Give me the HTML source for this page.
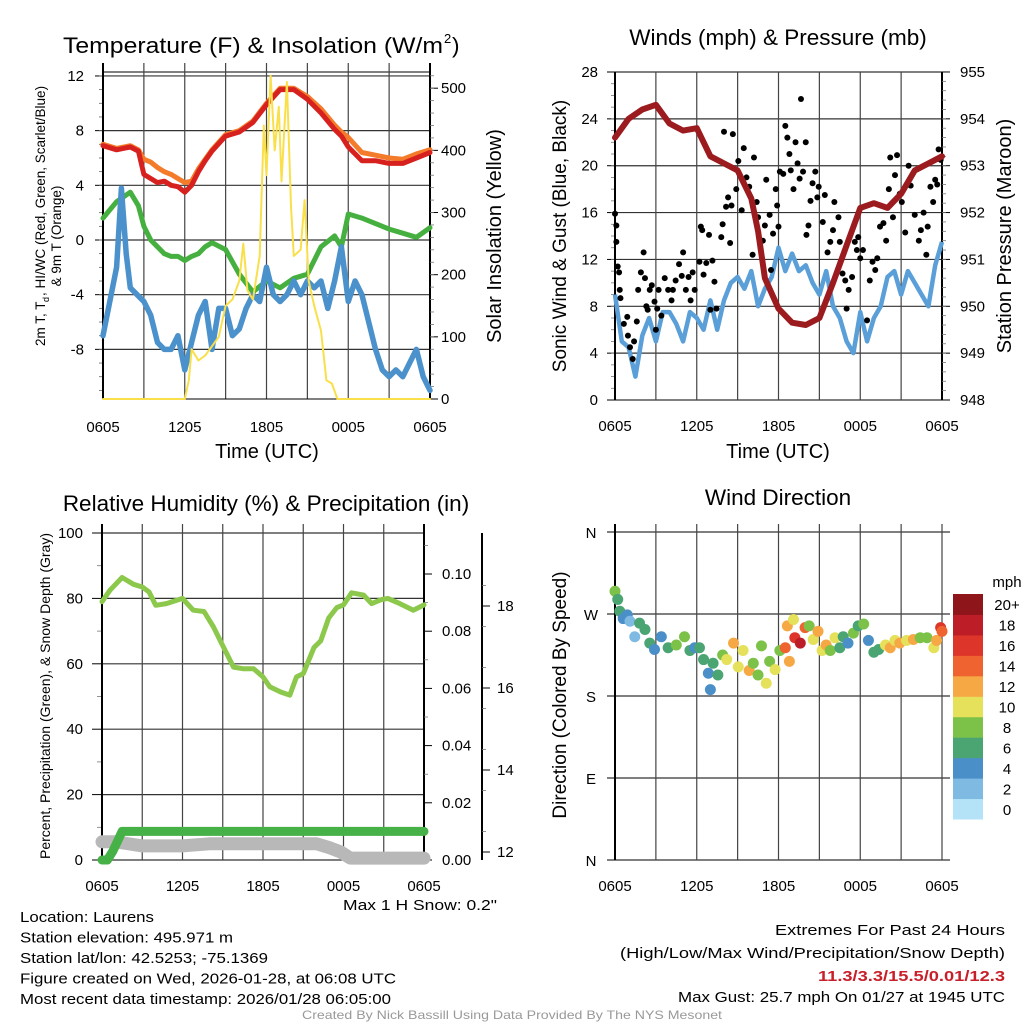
<!DOCTYPE html>
<html><head><meta charset="utf-8"><style>
html,body{margin:0;padding:0;background:#fff}
svg{display:block;font-family:"Liberation Sans",sans-serif}
</style></head><body>
<svg id="c" width="1024" height="1024" viewBox="0 0 1024 1024" xmlns="http://www.w3.org/2000/svg"></svg>
<script>
// ---------- DATA ----------
const timeTicks = ["0605","1205","1805","0005","0605"];
const tempHours = [0,1,2,2.6,3,3.5,4,4.5,5,5.5,6,6.5,7,7.5,8,9,10,11,12,13,14,15,16,17,17.5,18,19,20,21,22,23,24];
const tempRed = [6.9,6.6,6.8,6.5,4.8,4.5,4.2,4.3,4.0,3.9,3.5,4.0,5.0,5.8,6.5,7.6,7.9,8.6,9.9,11.0,11.0,10.3,9.3,8.1,7.6,6.8,5.8,5.8,5.6,5.6,6.0,6.4];
const tempOrange = [7.0,6.7,6.9,6.6,5.9,5.7,5.3,5.0,4.8,4.5,4.2,4.3,5.2,5.9,6.6,7.7,8.0,8.7,10.0,11.1,11.1,10.5,9.6,8.4,7.9,7.5,6.4,6.2,6.0,5.9,6.3,6.6];
const dewGreen = [1.6,2.8,3.5,2.5,1.0,0,-0.5,-1.0,-1.2,-1.2,-1.5,-1.2,-1.0,-0.5,-0.2,-0.7,-2.5,-3.8,-3.0,-3.5,-2.8,-2.5,-0.5,0.3,-0.5,1.9,1.6,1.2,0.8,0.5,0.2,0.9];
const wcHours = [0,0.5,1,1.35,1.7,2,2.5,3,3.5,4,4.5,5,5.5,6,6.5,7,7.5,8,8.5,9,9.5,10,10.5,11,11.5,12,12.5,13,13.5,14,14.5,15,15.5,16,16.5,17,17.5,18,18.5,19,19.5,20,20.5,21,21.5,22,22.5,23,23.5,24];
const wcBlue = [-7,-4.5,-2,3.8,-1,-3.5,-4,-4.5,-5.5,-7.5,-8,-8,-7,-9.5,-7.5,-5.5,-4.5,-8,-5,-5,-7,-6.5,-5,-4,-4.5,-2,-4,-4.5,-4,-3,-4,-3,-3.5,-3,-5,-3,-0.5,-4.5,-3,-4,-6,-8,-9.5,-10,-9.5,-10,-9,-8,-10,-11];
const solHours = [0,6,6.3,6.5,7,7.5,8,8.5,9,9.5,10,10.3,10.6,11,11.5,11.8,12,12.3,12.6,12.9,13.1,13.5,13.8,14,14.5,14.8,15.1,15.5,16,16.4,16.8,17.2,24];
const solar = [0,0,30,80,62,70,85,100,150,160,190,250,175,160,230,440,360,520,400,470,350,510,310,230,240,320,190,150,110,30,25,0,0];
const presHours = [0,1,2,3,4,5,6,7,8,9,10,10.5,11,12,13,14,15,16,17,18,19,20,21,22,23,24];
const pressure = [953.6,954.0,954.2,954.3,953.9,953.75,953.8,953.2,953.05,952.9,952.3,951.6,950.6,949.95,949.65,949.6,949.75,950.5,951.3,952.1,952.2,952.1,952.4,952.9,953.05,953.2];
const windHours = [0,0.5,1,1.5,2,2.5,3,3.5,4,4.5,5,5.5,6,6.5,7,7.5,8,8.5,9,9.5,10,10.5,11,11.5,12,12.5,13,13.5,14,14.5,15,15.5,16,16.5,17,17.5,18,18.5,19,19.5,20,20.5,21,21.5,22,22.5,23,23.5,24];
const windSpeed = [9,5,4.5,2,5.5,7,5,7.5,7.5,6.5,5,7.5,7,6,8.5,6,8.5,10,10.5,9.5,11,8,9.5,10.5,13,11,12.5,11,11.5,10,9,11,8,7,5,4,7.5,5,7,8,10.5,11,9,11,10,9,8,11.5,13.5];
const gustHours = [0,0.1,0.1,0.2,0.3,0.35,0.4,0.65,0.9,0.95,1.1,1.3,1.4,1.6,1.7,1.9,2.1,2.2,2.3,2.4,2.55,2.7,2.9,3.0,3.1,3.2,3.4,3.65,3.9,4.15,4.25,4.45,4.7,4.9,5.0,5.2,5.4,5.55,5.7,5.85,6.2,6.3,6.4,6.5,6.7,6.9,7.0,7.15,7.3,7.45,7.8,7.9,8.0,8.15,8.3,8.45,8.55,8.65,8.9,9.05,9.3,9.45,9.65,9.85,10.1,10.2,10.4,10.5,10.85,11.0,11.1,11.35,11.45,11.6,11.8,11.9,12.0,12.1,12.35,12.5,12.65,12.8,12.9,13.1,13.25,13.4,13.55,13.65,13.8,14.0,14.05,14.2,14.35,14.5,14.7,14.85,14.95,15.25,15.4,15.6,15.8,16.0,16.1,16.4,16.5,16.7,16.9,17.0,17.15,17.4,17.6,17.75,17.85,18.0,18.2,18.5,18.7,18.9,19.1,19.25,19.45,19.7,19.9,20.1,20.2,20.4,20.55,20.7,20.9,21.05,21.3,21.55,21.7,22.0,22.3,22.45,22.65,22.85,22.95,23.15,23.35,23.5,23.65,23.75,23.9];
const gustSpeed = [15.9,14.9,13.5,11.4,10.9,9.4,8.7,6.5,7.1,5.5,4.5,3.5,5,6.7,9.4,10.9,12.6,10.4,8,7.7,9.4,9.8,8.4,6,7.8,9.4,7.2,10.4,9.4,8.5,9.4,10.2,11.6,10.6,12.6,9.4,10.5,8.5,10.9,9.4,11.8,14.8,14.5,10.7,11.7,14.1,7.7,11.9,10.1,7.8,13.9,15,22.9,16.5,17.3,13.4,16.6,22.7,18,20.4,16.2,21.5,19,18.2,12.4,20.7,16.9,15.6,13.6,14.9,18.8,15.8,11.1,14.2,18,16.6,14.8,19.5,19.3,23.4,22.4,21,19.6,18,22,20.2,18.9,25.7,19.5,22,14.1,14.9,17,18.5,19.5,17.3,18.2,15.2,17.5,12.6,13.5,14.5,16.9,15.6,13.5,10.8,10.2,7.8,9.4,10.5,13.5,12.8,13.9,12.1,12.8,6.8,10.2,11.8,11.1,12.1,14.8,15.1,13.6,18,20.7,15.6,19.2,20.9,17.6,16.9,14.3,20,18.3,15.8,13.6,14.5,16,12.4,14.8,18.2,16.9,18.8,18.4,21.4,20.5];
const rhHours = [0,0.6,1.5,2.35,3.0,3.5,4.0,4.8,6.0,6.8,7.6,8.3,9.1,9.8,10.5,11.3,12.0,12.5,13.3,14.0,14.5,15.0,15.8,16.3,16.9,17.5,18.0,18.6,19.5,20.1,20.8,21.3,22.2,23.2,24];
const rh = [79,82.5,86.4,84.3,83.5,82,77.9,78.4,80,76.4,76,71.3,64.7,59,58.5,58.5,56,53,51.4,50.4,56,57,65,67,74,77.2,78,81.7,81,78.4,79.6,80,78.4,76.4,78];
const precipHours = [0,0.4,0.8,1.1,1.5,24];
const precip = [0,0,0.003,0.006,0.01,0.01];
const snowHours = [0,1,3,6,8,12,16,17,17.8,18.5,24];
const snowDepth = [12.25,12.25,12.15,12.15,12.2,12.2,12.2,12.1,12.0,11.85,11.85];
const dirHours = [0,0.2,0.35,0.6,0.9,1.1,1.45,1.8,2.2,2.55,2.9,3.4,3.9,4.5,5.1,5.5,5.85,6.2,6.5,6.85,7.0,7.2,7.55,7.9,8.2,8.7,9.05,9.4,9.85,10.15,10.5,10.75,11.1,11.35,11.75,12.1,12.5,12.65,12.8,13.1,13.2,13.6,13.95,14.25,14.55,14.9,15.2,15.5,15.8,16.15,16.5,16.75,17.1,17.5,17.85,18.25,18.6,19.0,19.35,19.85,20.2,20.55,20.9,21.4,21.9,22.4,22.9,23.4,23.6,23.9,24.0];
const dirDeg = [295,286,273,265,269,262,245,260,253,238,231,245,233,236,245,230,233,233,220,205,187,216,203,225,220,238,212,230,208,216,203,235,194,218,209,230,233,257,218,264,244,238,255,257,242,251,230,236,230,244,233,245,238,249,257,259,241,228,231,236,233,241,238,241,242,244,244,233,241,255,251];
const dirSpeed = [8,6,6,4,4,2,2,6,6,6,4,4,6,8,8,6,4,6,6,4,4,6,6,8,10,12,10,10,12,8,8,8,10,8,10,8,14,12,12,10,16,18,14,8,10,12,10,12,8,10,6,6,4,8,6,8,4,6,6,10,12,10,12,10,12,8,8,10,12,16,14];
const cbLabels = ["0","2","4","6","8","10","12","14","16","18","20+"];
const cbColors = ["#b4e3f8","#7fbae3","#4a8fc7","#4aa572","#7cc249","#e6e15a","#f6a845","#ef6330","#dd3529","#bc1d27","#8e161b"];

// ---------- HELPERS ----------
const S = document.getElementById('c');
const NS = 'http://www.w3.org/2000/svg';
function mk(tag, attrs, parent){const e=document.createElementNS(NS,tag);for(const k in attrs)e.setAttribute(k,attrs[k]);(parent||S).appendChild(e);return e;}
function txt(str, attrs, parent){const e=mk('text',attrs,parent);e.textContent=str;return e;}
function line(x1,y1,x2,y2,col,w,parent){return mk('line',{x1,y1,x2,y2,stroke:col,'stroke-width':w},parent);}
function path(hs, vs, fx, fy){let d='';for(let i=0;i<hs.length;i++){d+=(i?'L':'M')+fx(hs[i]).toFixed(1)+' '+fy(vs[i]).toFixed(1);}return d;}
function xAxis(x0,x1){return h=>x0+h*(x1-x0)/24;}
function timeGrid(g,fx,yTop,yBot,labY){
  for(let h=0;h<=24;h+=3){line(fx(h),yTop,fx(h),yBot,'#444',1.2,g);}
  for(let i=0;i<5;i++){
    const t=txt(timeTicks[i],{x:fx(i*6),y:labY,'font-size':15,'text-anchor':'middle'},g);
    
    
  }
}

// ================= PANEL 1 =================
{
const g=mk('g',{});
const fx=xAxis(103,430);
const fy=v=>240-v*13.67;
const fs=w=>399-w*0.6216;
txt('Temperature (F) & Insolation (W/m',{x:63,y:53,'font-size':22.5,textLength:380,lengthAdjust:'spacingAndGlyphs'},g);
txt('2',{x:444,y:43,'font-size':13},g);
txt(')',{x:452,y:53,'font-size':22.5},g);
for(let v=-8;v<=12;v+=4){line(103,fy(v),430,fy(v),'#333',1.2,g);
  txt(String(v),{x:84,y:fy(v)+5,'font-size':15,'text-anchor':'end'},g);line(95,fy(v),103,fy(v),'#000',1,g);}
for(let v=-11;v<=12;v++){line(99,fy(v),103,fy(v),'#666',0.8,g);}
line(103,72,430,72,'#333',1.2,g);
timeGrid(g,fx,63,399,432);
line(103,63,103,399,'#000',2,g);line(430,63,430,399,'#000',2,g);line(103,399,430,399,'#000',1,g);
for(let w=0;w<=500;w+=100){line(430,fs(w),438,fs(w),'#000',1,g);txt(String(w),{x:441,y:fs(w)+5,'font-size':15},g);}
for(let w=20;w<=520;w+=20){line(430,fs(w),434,fs(w),'#777',0.8,g);}
const mkP=(d,c,w,n)=>{const p=mk('path',{d,fill:'none',stroke:c,'stroke-width':w,'stroke-linejoin':'round','stroke-linecap':'round'},g);return p;};
mkP(path(tempHours,tempOrange,fx,fy),'#f47b2a',5,'temp-9m-line');
mkP(path(tempHours,tempRed,fx,fy),'#d7211f',5,'temp-2m-line');
mkP(path(tempHours,dewGreen,fx,fy),'#45b03f',5,'dewpoint-line');
mkP(path(wcHours,wcBlue,fx,fy),'#4b91cb',5.5,'windchill-line');
mkP(path(solHours,solar,fx,fs),'#f9e04b',2,'solar-line');
txt('Time (UTC)',{x:267,y:458,'font-size':20,'text-anchor':'middle'},g);
const yl=mk('g',{transform:'translate(45,236) rotate(-90)'},g);
txt('2m T, T',{x:-110,y:0,'font-size':13.5},yl);txt('d',{x:-66,y:4,'font-size':9},yl);
txt(', HI/WC (Red, Green, Scarlet/Blue)',{x:-60,y:0,'font-size':13.5},yl);
txt('& 9m T (Orange)',{x:0,y:16,'font-size':13.5,'text-anchor':'middle'},yl);
const yr=txt('Solar Insolation (Yellow)',{x:0,y:0,'font-size':20,'text-anchor':'middle',transform:'translate(501,236) rotate(-90)'},g);

}

// ================= PANEL 2 =================
{
const g=mk('g',{});
const fx=xAxis(615,942);
const fy=v=>400-v*11.714;
const fp=p=>400-(p-948)*46.86;
txt('Winds (mph) & Pressure (mb)',{x:778,y:45,'font-size':22.5,'text-anchor':'middle'},g);
for(let v=0;v<=28;v+=4){line(615,fy(v),942,fy(v),'#333',1.2,g);line(607,fy(v),615,fy(v),'#000',1,g);
  txt(String(v),{x:598,y:fy(v)+5,'font-size':15,'text-anchor':'end'},g);}
for(let v=1;v<28;v++){line(611,fy(v),615,fy(v),'#777',0.8,g);}
timeGrid(g,fx,72,400,431);
line(615,72,615,400,'#000',2,g);line(942,72,942,400,'#000',2,g);
for(let p=948;p<=955;p++){line(942,fp(p),950,fp(p),'#000',1,g);txt(String(p),{x:960,y:fp(p)+5,'font-size':15},g);}
for(let p=948.2;p<955;p+=0.2){line(942,fp(p),946,fp(p),'#777',0.8,g);}
const wl=mk('path',{d:path(windHours,windSpeed,fx,fy),fill:'none',stroke:'#5a9fd8','stroke-width':4.5,'stroke-linejoin':'round'},g);

for(let i=0;i<gustHours.length;i++){const c=mk('circle',{cx:fx(gustHours[i]),cy:fy(gustSpeed[i]),r:3,fill:'#000'},g);
  
  }
const pl=mk('path',{d:path(presHours,pressure,fx,fp),fill:'none',stroke:'#9b1b1f','stroke-width':6,'stroke-linejoin':'round','stroke-linecap':'round'},g);

txt('Time (UTC)',{x:778,y:458,'font-size':20,'text-anchor':'middle'},g);
txt('Sonic Wind & Gust (Blue, Black)',{x:0,y:0,'font-size':19,'text-anchor':'middle',transform:'translate(566,236) rotate(-90)'},g);
txt('Station Pressure (Maroon)',{x:0,y:0,'font-size':20,'text-anchor':'middle',transform:'translate(1011,236) rotate(-90)'},g);
}

// ================= PANEL 3 =================
{
const g=mk('g',{});
const fx=xAxis(102,424);
const fy=v=>860-v*3.27;
const fpr=p=>860-p*2860;
const fsn=s=>852-(s-12)*41;
txt('Relative Humidity (%) & Precipitation (in)',{x:266,y:511,'font-size':22.5,'text-anchor':'middle'},g);
for(let v=0;v<=100;v+=20){line(102,fy(v),424,fy(v),'#333',1.2,g);line(92,fy(v),102,fy(v),'#000',1,g);
  txt(String(v),{x:83,y:fy(v)+5,'font-size':15,'text-anchor':'end'},g);}
for(let v=10;v<100;v+=20){line(97,fy(v),102,fy(v),'#777',0.8,g);}
timeGrid(g,fx,524,860,891);
line(102,524,102,860,'#000',2,g);line(424,524,424,860,'#000',2,g);
for(let p=0;p<=0.1001;p+=0.02){line(424,fpr(p),432,fpr(p),'#000',1,g);txt(p.toFixed(2),{x:442,y:fpr(p)+5,'font-size':15},g);}
for(let p=0.01;p<0.115;p+=0.02){line(424,fpr(p),428,fpr(p),'#777',0.8,g);}
line(482,533,482,860,'#000',2,g);
for(let s=12;s<=18;s+=2){line(482,fsn(s),490,fsn(s),'#000',1,g);txt(String(s),{x:497,y:fsn(s)+5,'font-size':15},g);}
for(let s=12.5;s<19.5;s+=1){line(482,fsn(s),486,fsn(s),'#777',0.8,g);}
const sn=mk('path',{d:path(snowHours,snowDepth,fx,fsn),fill:'none',stroke:'#b8b8b8','stroke-width':13,'stroke-linecap':'round','stroke-linejoin':'round'},g);

const pr=mk('path',{d:path(precipHours,precip,fx,fpr),fill:'none',stroke:'#46b146','stroke-width':9,'stroke-linecap':'round','stroke-linejoin':'round'},g);

const rl=mk('path',{d:path(rhHours,rh,fx,fy),fill:'none',stroke:'#8cc84b','stroke-width':5,'stroke-linecap':'round','stroke-linejoin':'round'},g);

txt('Percent, Precipitation (Green), & Snow Depth (Gray)',{x:0,y:0,'font-size':14,'text-anchor':'middle',transform:'translate(50,696) rotate(-90)'},g);
}

// ================= PANEL 4 =================
{
const g=mk('g',{});
const fx=xAxis(615,942);
const fd=d=>860-d*0.9111;
txt('Wind Direction',{x:778,y:505,'font-size':22.5,'text-anchor':'middle'},g);
const dl=['N','W','S','E','N'];
for(let i=0;i<5;i++){const d=360-i*90;line(607,fd(d),950,fd(d),'#333',1.2,g);
  txt(dl[i],{x:591,y:fd(d)+6,'font-size':15,'text-anchor':'middle'},g);}
timeGrid(g,fx,524,860,891);
line(615,524,615,860,'#000',2,g);
for(let i=0;i<dirHours.length;i++){
  const bin=Math.min(10,Math.floor(dirSpeed[i]/2));
  const c=mk('circle',{cx:fx(dirHours[i]),cy:fd(dirDeg[i]),r:5.5,fill:cbColors[bin]},g);
  
  
}
txt('Direction (Colored By Speed)',{x:0,y:0,'font-size':19,'text-anchor':'middle',transform:'translate(566,695) rotate(-90)'},g);
const cb=mk('g',{},g);
const segH=225/11;
for(let i=0;i<11;i++){const y=819-(i+1)*segH;
  mk('rect',{x:953,y:y,width:30,height:segH+0.5,fill:cbColors[i]},cb);
  txt(cbLabels[i],{x:1007,y:y+segH/2+6,'font-size':15,'text-anchor':'middle'},cb);}
txt('mph',{x:1007,y:587,'font-size':15,'text-anchor':'middle'},cb);
}

// ================= FOOTER TEXT =================
{
const g=mk('g',{});
const L=[["Location: Laurens",134],["Station elevation: 495.971 m",213],["Station lat/lon: 42.5253; -75.1369",248],["Figure created on Wed, 2026-01-28, at 06:08 UTC",376],["Most recent data timestamp: 2026/01/28 06:05:00",371]];
L.forEach((l,i)=>txt(l[0],{x:20,y:922+i*20.5,'font-size':15,textLength:l[1],lengthAdjust:'spacingAndGlyphs'},g));
txt('Max 1 H Snow: 0.2"',{x:343,y:910,'font-size':15,textLength:154,lengthAdjust:'spacingAndGlyphs'},g);
const R=[["Extremes For Past 24 Hours",775,935,'#000','normal'],["(High/Low/Max Wind/Precipitation/Snow Depth)",620,958,'#000','normal'],["11.3/3.3/15.5/0.01/12.3",818,981,'#c8202a','bold'],["Max Gust: 25.7 mph On 01/27 at 1945 UTC",678,1002,'#000','normal']];
R.forEach(r=>txt(r[0],{x:r[1],y:r[2],'font-size':15,fill:r[3],'font-weight':r[4],textLength:1005-r[1],lengthAdjust:'spacingAndGlyphs'},g));
txt('Created By Nick Bassill Using Data Provided By The NYS Mesonet',{x:302,y:1019,'font-size':12,fill:'#999',textLength:420,lengthAdjust:'spacingAndGlyphs'},g);
}
</script>
</body></html>
